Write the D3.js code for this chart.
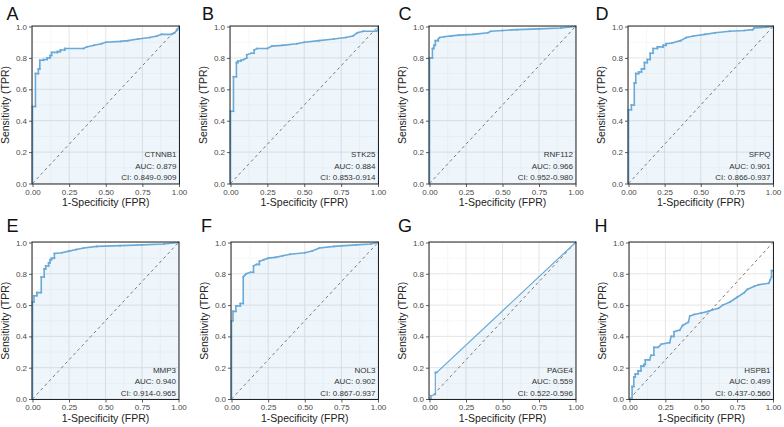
<!DOCTYPE html>
<html><head><meta charset="utf-8">
<script src="https://cdn.jsdelivr.net/npm/d3@7/dist/d3.min.js"></script>
<style>body{margin:0;background:#fff;}svg{display:block;font-family:"Liberation Sans",Arial,sans-serif;}</style>
</head><body><svg id="c" width="784" height="427"></svg>
<script>
// ---- data ----
const letters = ["A","B","C","D","E","F","G","H"];
const genes = ["CTNNB1","STK25","RNF112","SFPQ","MMP3","NOL3","PAGE4","HSPB1"];
const aucs = ["0.879","0.884","0.966","0.901","0.940","0.902","0.559","0.499"];
const cis = ["0.849-0.909","0.853-0.914","0.952-0.980","0.866-0.937","0.914-0.965","0.867-0.937","0.522-0.596","0.437-0.560"];
const xTicks = [0,0.25,0.5,0.75,1];
const xTickLabels = ["0.00","0.25","0.50","0.75","1.00"];
const yTicks = [0,0.2,0.4,0.6,0.8,1];
const yTickLabels = ["0.0","0.2","0.4","0.6","0.8","1.0"];

// ROC vertices [FPR, TPR]
const rocCTNNB1 = [[0,0],[0,0.49],[0.02,0.49],[0.02,0.70],[0.04,0.70],[0.04,0.73],[0.05,0.73],[0.05,0.785],[0.075,0.785],[0.075,0.79],[0.10,0.79],[0.10,0.80],[0.12,0.80],[0.12,0.815],[0.13,0.815],[0.13,0.835],[0.17,0.835],[0.17,0.84],[0.19,0.84],[0.19,0.85],[0.22,0.85],[0.22,0.86],[0.35,0.86],[0.37,0.87],[0.42,0.88],[0.47,0.89],[0.50,0.90],[0.60,0.905],[0.65,0.91],[0.72,0.92],[0.80,0.93],[0.85,0.94],[0.88,0.95],[0.95,0.95],[0.97,0.96],[0.99,0.98],[1,1]];
const rocSTK25 = [[0,0],[0,0.46],[0.02,0.46],[0.02,0.68],[0.04,0.68],[0.04,0.77],[0.05,0.77],[0.05,0.78],[0.07,0.78],[0.07,0.785],[0.09,0.79],[0.11,0.80],[0.11,0.82],[0.14,0.83],[0.16,0.83],[0.16,0.85],[0.18,0.86],[0.25,0.86],[0.28,0.875],[0.35,0.88],[0.45,0.89],[0.50,0.90],[0.60,0.91],[0.70,0.92],[0.78,0.93],[0.83,0.94],[0.86,0.96],[0.90,0.97],[0.99,0.97],[1,0.98],[1,1]];
const rocRNF112 = [[0,0],[0,0.80],[0.02,0.80],[0.02,0.86],[0.03,0.86],[0.03,0.88],[0.04,0.88],[0.04,0.91],[0.06,0.91],[0.06,0.92],[0.07,0.93],[0.10,0.935],[0.15,0.94],[0.20,0.945],[0.30,0.95],[0.40,0.96],[0.42,0.97],[0.50,0.975],[0.60,0.98],[0.75,0.985],[0.90,0.99],[1,1]];
const rocSFPQ = [[0,0],[0,0.47],[0.02,0.47],[0.02,0.50],[0.04,0.50],[0.04,0.64],[0.05,0.64],[0.05,0.70],[0.07,0.70],[0.07,0.71],[0.09,0.71],[0.09,0.73],[0.11,0.73],[0.11,0.77],[0.13,0.77],[0.13,0.79],[0.15,0.79],[0.15,0.83],[0.17,0.83],[0.17,0.86],[0.20,0.86],[0.20,0.87],[0.24,0.87],[0.24,0.88],[0.26,0.88],[0.26,0.89],[0.30,0.895],[0.36,0.91],[0.40,0.93],[0.45,0.94],[0.53,0.95],[0.60,0.96],[0.70,0.97],[0.80,0.975],[0.86,0.98],[0.87,0.99],[0.95,0.995],[1,1]];
const rocMMP3 = [[0,0],[0,0.62],[0.01,0.62],[0.01,0.66],[0.03,0.66],[0.03,0.68],[0.06,0.68],[0.06,0.78],[0.08,0.78],[0.08,0.83],[0.09,0.83],[0.09,0.85],[0.11,0.85],[0.11,0.87],[0.12,0.87],[0.12,0.89],[0.13,0.89],[0.13,0.90],[0.15,0.90],[0.15,0.93],[0.20,0.935],[0.25,0.945],[0.30,0.955],[0.35,0.965],[0.44,0.975],[0.60,0.98],[0.75,0.985],[0.90,0.99],[1,1]];
const rocNOL3 = [[0,0],[0,0.50],[0.01,0.50],[0.01,0.56],[0.03,0.56],[0.03,0.595],[0.06,0.595],[0.06,0.61],[0.08,0.61],[0.08,0.78],[0.09,0.79],[0.10,0.80],[0.13,0.81],[0.15,0.81],[0.15,0.85],[0.17,0.86],[0.19,0.86],[0.19,0.88],[0.22,0.89],[0.25,0.90],[0.30,0.905],[0.35,0.915],[0.40,0.925],[0.50,0.935],[0.55,0.945],[0.60,0.965],[0.70,0.975],[0.85,0.985],[0.95,0.99],[1,1]];
const rocPAGE4 = [[0,0],[0.01,0],[0.01,0.02],[0.04,0.03],[0.04,0.17],[0.05,0.17],[1,1]];
const rocHSPB1 = [[0,0],[0.018,0],[0.018,0.08],[0.03,0.08],[0.03,0.14],[0.04,0.14],[0.04,0.16],[0.06,0.16],[0.06,0.18],[0.08,0.18],[0.08,0.21],[0.10,0.21],[0.10,0.22],[0.11,0.22],[0.11,0.25],[0.14,0.25],[0.15,0.28],[0.17,0.28],[0.17,0.33],[0.20,0.33],[0.22,0.35],[0.28,0.36],[0.29,0.40],[0.31,0.40],[0.31,0.43],[0.35,0.44],[0.37,0.47],[0.41,0.49],[0.42,0.53],[0.45,0.54],[0.50,0.55],[0.55,0.56],[0.58,0.57],[0.62,0.58],[0.65,0.60],[0.70,0.62],[0.75,0.65],[0.80,0.68],[0.82,0.70],[0.87,0.72],[0.90,0.73],[0.97,0.74],[0.98,0.76],[0.99,0.78],[0.99,0.82],[1,0.82]];
const rocs = [rocCTNNB1,rocSTK25,rocRNF112,rocSFPQ,rocMMP3,rocNOL3,rocPAGE4,rocHSPB1];

// ---- layout ----
const boxes = [
  {l:32,r:179.5,t:26,b:184},{l:230,r:378.5,t:26,b:184},{l:429,r:576,t:26,b:184},{l:628,r:773.5,t:26,b:184},
  {l:32,r:179,t:242,b:399.5},{l:231,r:378.5,t:242,b:399.5},{l:429,r:576,t:242,b:399.5},{l:629,r:773.5,t:242,b:399.5}
];
const letterX = [6.5,202,398.5,595.5,6.5,201,398,594.5];
const lineCol = "#6aaad8";
const svg = d3.select("#c");

rocs.forEach((data,i)=>{
  const b = boxes[i];
  const x = d3.scaleLinear().domain([0,1]).range([b.l+0.5,b.r-0.5]);
  const y = d3.scaleLinear().domain([0,1]).range([b.b-0.5,b.t+0.5]);
  const g = svg.append("g");
  g.append("rect").attr("x",b.l).attr("y",b.t).attr("width",b.r-b.l).attr("height",b.b-b.t).attr("fill","#fff");
  const xMinor = [0.125,0.375,0.625,0.875], yMinor=[0.1,0.3,0.5,0.7,0.9];
  g.selectAll(".xm").data(xMinor).enter().append("line").attr("x1",d=>x(d)).attr("x2",d=>x(d)).attr("y1",b.t).attr("y2",b.b).attr("stroke","#f1f1f1").attr("stroke-width",0.6);
  g.selectAll(".ym").data(yMinor).enter().append("line").attr("y1",d=>y(d)).attr("y2",d=>y(d)).attr("x1",b.l).attr("x2",b.r).attr("stroke","#f1f1f1").attr("stroke-width",0.6);
  g.selectAll(".xg").data(xTicks).enter().append("line").attr("x1",d=>x(d)).attr("x2",d=>x(d)).attr("y1",b.t).attr("y2",b.b).attr("stroke","#e2e2e2").attr("stroke-width",0.9);
  g.selectAll(".yg").data(yTicks).enter().append("line").attr("y1",d=>y(d)).attr("y2",d=>y(d)).attr("x1",b.l).attr("x2",b.r).attr("stroke","#e2e2e2").attr("stroke-width",0.9);
  const area = d3.area().x(d=>x(d[0])).y0(y(0)).y1(d=>y(d[1]));
  g.append("path").datum(data).attr("d",area).attr("fill","rgba(106,170,216,0.11)");
  g.append("line").attr("x1",x(0)).attr("y1",y(0)).attr("x2",x(1)).attr("y2",y(1)).attr("stroke","#7a7a7a").attr("stroke-width",1).attr("stroke-dasharray","3,3");
  const line = d3.line().x(d=>x(d[0])).y(d=>y(d[1]));
  g.append("path").datum(data).attr("d",line).attr("fill","none").attr("stroke",lineCol).attr("stroke-width",i===6?1.2:1.6);
  g.selectAll(".pt").data(data.slice(1)).enter().append("circle").attr("cx",d=>x(d[0])).attr("cy",d=>y(d[1])).attr("r",1).attr("fill",lineCol);
  g.append("rect").attr("x",b.l).attr("y",b.t).attr("width",b.r-b.l).attr("height",b.b-b.t).attr("fill","none").attr("stroke","#222").attr("stroke-width",1);
  const xAxis = d3.axisBottom(x).tickValues(xTicks).tickFormat((d,j)=>xTickLabels[j]).tickSize(3).tickPadding(2);
  const yAxis = d3.axisLeft(y).tickValues(yTicks).tickFormat((d,j)=>yTickLabels[j]).tickSize(3).tickPadding(2);
  const gx = g.append("g").attr("transform",`translate(0,${b.b})`).call(xAxis);
  const gy = g.append("g").attr("transform",`translate(${b.l},0)`).call(yAxis);
  [gx,gy].forEach(a=>{
    a.select(".domain").remove();
    a.selectAll(".tick line").attr("stroke","#333").attr("stroke-width",0.8);
    a.selectAll(".tick text").attr("fill","#4a4a4a").style("font-size","8px").style("font-family","Liberation Sans, Arial, sans-serif");
  });
  g.append("text").attr("x",(b.l+b.r)/2).attr("y",b.b+22).attr("text-anchor","middle").style("font-size","10.5px").attr("fill","#222").text("1-Specificity (FPR)");
  g.append("text").attr("transform",`translate(${b.l-23},${(b.t+b.b)/2}) rotate(-90)`).attr("text-anchor","middle").style("font-size","10.5px").attr("fill","#222").text("Sensitivity (TPR)");
  const ax = b.r-3;
  g.append("text").attr("x",ax).attr("y",b.b-27).attr("text-anchor","end").style("font-size","8px").attr("fill","#333").text(genes[i]);
  g.append("text").attr("x",ax).attr("y",b.b-15.5).attr("text-anchor","end").style("font-size","8px").attr("fill","#333").text("AUC: "+aucs[i]);
  g.append("text").attr("x",ax).attr("y",b.b-4).attr("text-anchor","end").style("font-size","8px").attr("fill","#333").text("CI: "+cis[i]);
  g.append("text").attr("x",letterX[i]).attr("y",i<4?19.5:231.5).style("font-size","18px").attr("fill","#111").text(letters[i]);
});
</script></body></html>
